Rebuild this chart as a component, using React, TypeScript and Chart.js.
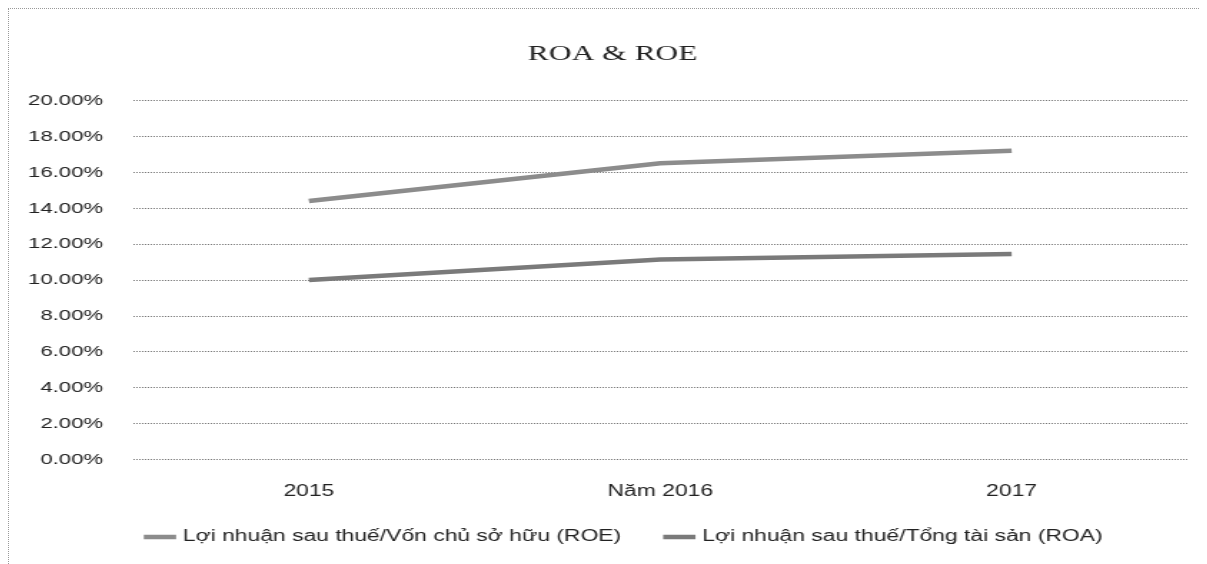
import React, { useEffect, useRef } from "react";
import { Chart, registerables } from "chart.js";

Chart.register(...registerables);

const categories = ["2015", "Năm 2016", "2017"];
const roeLabel = "Lợi nhuận sau thuế/Vốn chủ sở hữu (ROE)";
const roaLabel = "Lợi nhuận sau thuế/Tổng tài sản (ROA)";
const roeValues = [14.4, 16.5, 17.2];
const roaValues = [10.0, 11.15, 11.45];
const yMin = 0;
const yMax = 20;
const yStep = 2;

const SCALE_X = 1.43;
const CANVAS_W = 832;
const CANVAS_H = 552;
const LEGEND_SHIFT = 23;
const TITLE_SHIFT = 14;
const LEGEND_GAP = "      ";

const boxShift = {
  id: "boxShift",
  beforeDraw(chart: any) {
    const lg = chart.legend;
    if (lg && !lg._shifted) {
      lg.left += LEGEND_SHIFT;
      lg.right += LEGEND_SHIFT;
      lg._shifted = true;
    }
    const tt = chart.titleBlock;
    if (tt && !tt._shifted) {
      tt.left += TITLE_SHIFT;
      tt.right += TITLE_SHIFT;
      tt._shifted = true;
    }
  },
};

export default function App() {
  const ref = useRef<HTMLCanvasElement | null>(null);

  useEffect(() => {
    if (!ref.current) return;
    const chart = new Chart(ref.current, {
      type: "line",
      data: {
        labels: categories,
        datasets: [
          {
            label: roeLabel,
            data: roeValues,
            borderColor: "#8c8c8c",
            backgroundColor: "#8c8c8c",
            borderWidth: 4.5,
            pointRadius: 0,
            tension: 0,
          },
          {
            label: roaLabel,
            data: roaValues,
            borderColor: "#7a7a7a",
            backgroundColor: "#7a7a7a",
            borderWidth: 4.5,
            pointRadius: 0,
            tension: 0,
          },
        ],
      },
      plugins: [boxShift],
      options: {
        responsive: false,
        animation: false,
        devicePixelRatio: 1,
        layout: { padding: { left: -7.7, right: 8, top: 0, bottom: 6 } },
        plugins: {
          title: {
            display: true,
            text: "ROA & ROE",
            color: "#222",
            font: { family: "'Liberation Serif', 'Times New Roman', serif", size: 22, weight: "normal" },
            padding: { top: 32, bottom: 33 },
          },
          legend: {
            display: true,
            position: "bottom",
            labels: {
              color: "#222",
              font: { family: "'Liberation Sans', Arial, sans-serif", size: 16 },
              usePointStyle: true,
              pointStyle: "line",
              boxWidth: 22,
              padding: 6,
              generateLabels: (c: any) => {
                const items = Chart.defaults.plugins.legend.labels.generateLabels(c);
                return items.map((it: any, i: number) =>
                  i < items.length - 1 ? { ...it, text: it.text + LEGEND_GAP } : it
                );
              },
            },
          },
          tooltip: { enabled: false },
        },
        scales: {
          x: {
            offset: true,
            grid: { display: false, drawTicks: false },
            border: { display: false },
            ticks: {
              color: "#222",
              padding: 22,
              font: { family: "'Liberation Sans', Arial, sans-serif", size: 16 },
            },
          },
          y: {
            min: yMin,
            max: yMax,
            ticks: {
              stepSize: yStep,
              color: "#222",
              padding: 21,
              font: { family: "'Liberation Sans', Arial, sans-serif", size: 15.5 },
              callback: (v: any) => Number(v).toFixed(2) + "%",
            },
            grid: { color: "#777", lineWidth: 1, drawTicks: false },
            border: { display: false, dash: [1, 1] },
          },
        },
      },
    });
    return () => chart.destroy();
  }, []);

  return (
    <div
      style={{
        width: 1191,
        height: 556,
        borderTop: "1px dotted #999",
        borderLeft: "1px dotted #999",
        boxSizing: "border-box",
        overflow: "hidden",
        position: "relative",
        background: "#fff",
      }}
    >
      <canvas
        ref={ref}
        width={CANVAS_W}
        height={CANVAS_H}
        style={{
          display: "block",
          width: CANVAS_W,
          height: CANVAS_H,
          transform: `scaleX(${SCALE_X})`,
          transformOrigin: "0 0",
        }}
      />
    </div>
  );
}
